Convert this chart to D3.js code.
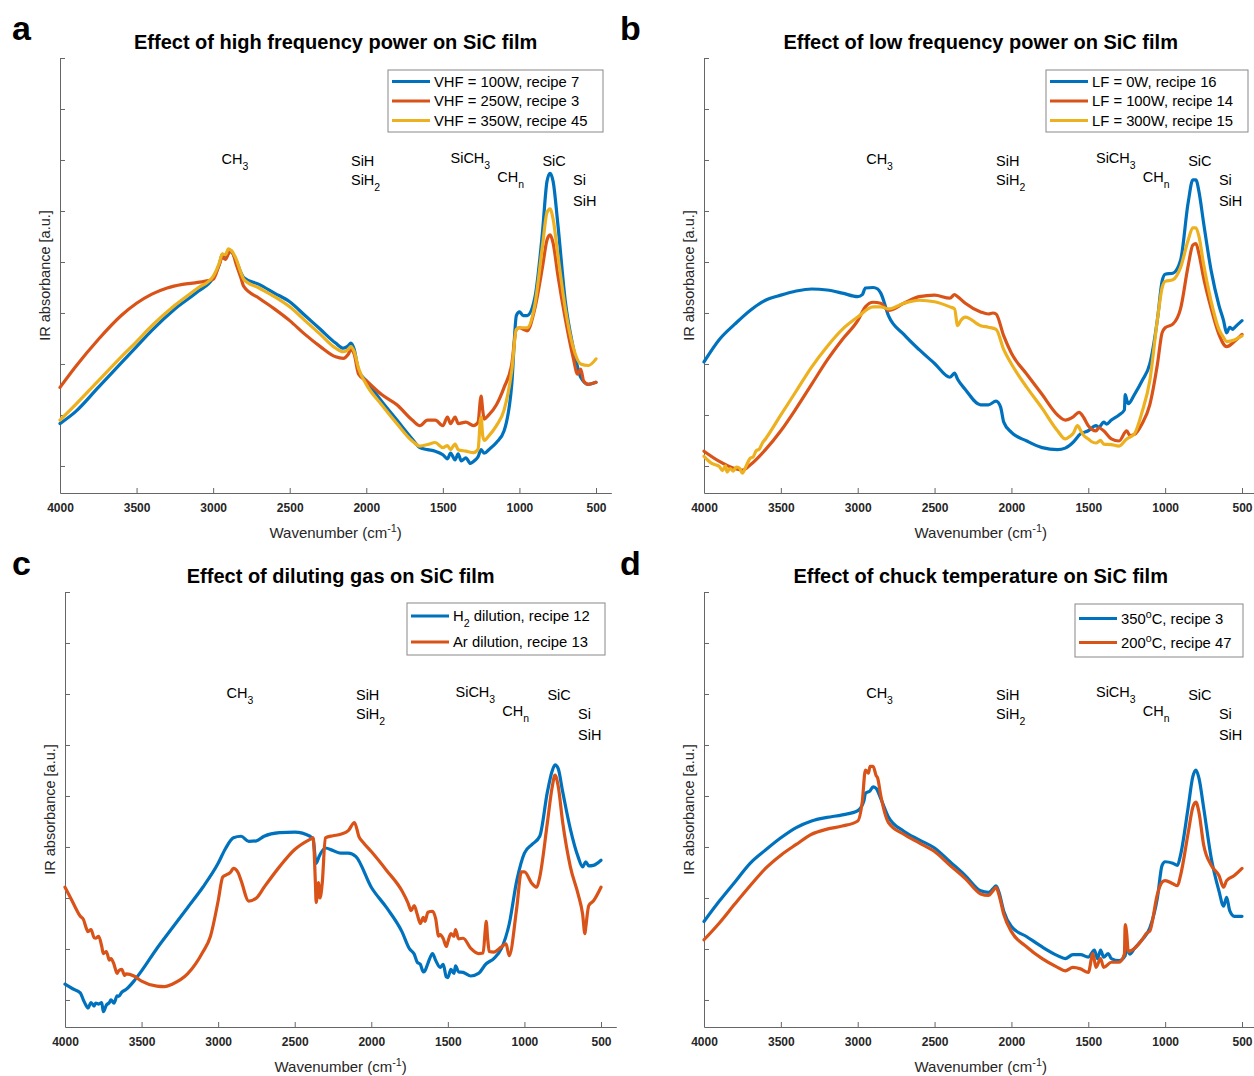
<!DOCTYPE html>
<html>
<head>
<meta charset="utf-8">
<script src="https://cdn.jsdelivr.net/npm/d3@7"></script>
<style>
  body { margin: 0; background: #fff; }
  svg { display: block; font-family: "Liberation Sans", Arial, Helvetica, sans-serif; }
</style>
</head>
<body>
<svg id="chart" width="1254" height="1076"></svg>
<script>
// FTIR spectra of SiC films, values are [wavenumber, absorbance in tick units]

// a: high frequency power
const hfBlue = [[4000,0.83],[3900,1.06],[3750,1.54],[3600,2.02],[3500,2.34],[3400,2.66],[3250,3.08],[3100,3.42],[3000,3.69],[2960,3.95],[2940,4.15],[2920,4.12],[2900,4.23],[2880,4.2],[2850,4.03],[2820,3.8],[2800,3.69],[2700,3.56],[2600,3.39],[2500,3.22],[2400,2.95],[2300,2.68],[2200,2.41],[2150,2.31],[2120,2.35],[2100,2.41],[2080,2.3],[2050,1.87],[2000,1.67],[1900,1.27],[1800,0.90],[1700,0.53],[1650,0.36],[1600,0.32],[1550,0.29],[1500,0.22],[1470,0.14],[1450,0.25],[1420,0.12],[1400,0.24],[1380,0.1],[1350,0.16],[1320,0.05],[1300,0.09],[1270,0.18],[1250,0.32],[1230,0.25],[1200,0.32],[1150,0.46],[1100,0.69],[1050,1.6],[1020,2.95],[1000,3.02],[975,2.95],[950,2.95],[900,3.29],[850,4.57],[820,5.58],[800,5.74],[780,5.58],[750,4.77],[700,3.22],[650,2.34],[620,1.94],[600,1.74],[550,1.6],[500,1.64]];
const hfRed = [[4000,1.54],[3900,1.94],[3750,2.48],[3600,2.95],[3500,3.19],[3400,3.37],[3300,3.49],[3200,3.56],[3100,3.6],[3000,3.66],[2960,3.95],[2940,4.09],[2920,4.05],[2900,4.16],[2880,4.22],[2850,3.96],[2820,3.7],[2800,3.52],[2700,3.29],[2600,3.08],[2500,2.85],[2400,2.58],[2300,2.34],[2200,2.14],[2150,2.11],[2120,2.18],[2100,2.28],[2080,2.2],[2050,1.80],[2000,1.67],[1900,1.40],[1800,1.2],[1700,0.9],[1650,0.79],[1600,0.9],[1550,0.9],[1500,0.79],[1470,0.96],[1450,0.83],[1420,0.96],[1400,0.83],[1350,0.86],[1300,0.79],[1270,0.86],[1255,1.3],[1250,1.37],[1240,1.1],[1230,0.92],[1200,1.0],[1150,1.2],[1100,1.54],[1050,2.0],[1020,2.68],[1000,2.71],[975,2.68],[950,2.65],[900,3.08],[850,3.89],[820,4.43],[800,4.53],[780,4.37],[750,3.76],[700,2.88],[650,2.14],[620,1.80],[600,1.9],[580,1.66],[550,1.6],[500,1.64]];
const hfYellow = [[4000,0.90],[3900,1.2],[3750,1.67],[3600,2.14],[3500,2.44],[3400,2.75],[3250,3.15],[3100,3.49],[3000,3.72],[2960,3.98],[2940,4.16],[2920,4.14],[2900,4.26],[2880,4.22],[2850,4.06],[2820,3.8],[2800,3.66],[2700,3.49],[2600,3.32],[2500,3.12],[2400,2.85],[2300,2.58],[2200,2.31],[2150,2.24],[2120,2.28],[2100,2.34],[2080,2.25],[2050,1.91],[2000,1.6],[1900,1.2],[1800,0.83],[1700,0.49],[1650,0.39],[1600,0.42],[1550,0.46],[1500,0.36],[1470,0.4],[1450,0.32],[1420,0.43],[1400,0.32],[1350,0.29],[1300,0.26],[1270,0.33],[1255,0.9],[1250,0.96],[1240,0.6],[1230,0.5],[1200,0.59],[1150,0.79],[1100,1.1],[1050,1.87],[1020,2.68],[1000,2.71],[950,2.71],[900,3.15],[850,4.30],[820,4.97],[800,5.04],[780,4.84],[750,4.16],[700,3.08],[650,2.34],[600,2.0],[550,1.97],[500,2.1]];
const hfNames = ["VHF = 100W, recipe 7", "VHF = 250W, recipe 3", "VHF = 350W, recipe 45"];

// b: low frequency power
const lfBlue = [[4000,2.04],[3900,2.48],[3800,2.78],[3700,3.05],[3600,3.25],[3500,3.35],[3400,3.43],[3300,3.47],[3200,3.45],[3100,3.39],[3000,3.32],[2970,3.36],[2950,3.49],[2900,3.50],[2870,3.47],[2850,3.39],[2800,2.95],[2700,2.58],[2600,2.28],[2500,2.01],[2400,1.74],[2370,1.82],[2350,1.7],[2300,1.50],[2200,1.2],[2150,1.2],[2100,1.27],[2070,1.15],[2050,0.86],[2000,0.66],[1900,0.49],[1800,0.36],[1700,0.32],[1650,0.35],[1600,0.46],[1550,0.63],[1500,0.69],[1450,0.79],[1430,0.76],[1400,0.86],[1380,0.82],[1350,0.9],[1300,1.0],[1265,1.1],[1260,1.4],[1250,1.3],[1240,1.22],[1200,1.4],[1150,1.67],[1100,2.0],[1050,2.88],[1020,3.62],[1000,3.76],[950,3.78],[900,4.03],[850,5.17],[820,5.61],[800,5.61],[780,5.38],[750,4.77],[700,3.82],[650,3.15],[620,2.85],[600,2.61],[580,2.72],[560,2.68],[550,2.71],[500,2.85]];
const lfRed = [[4000,0.29],[3900,0.09],[3800,-0.05],[3750,-0.08],[3700,0.02],[3600,0.32],[3500,0.69],[3400,1.13],[3300,1.60],[3200,2.07],[3100,2.48],[3000,2.85],[2950,3.12],[2900,3.21],[2850,3.19],[2800,3.05],[2700,3.19],[2600,3.32],[2500,3.35],[2400,3.29],[2370,3.36],[2350,3.32],[2300,3.19],[2200,3.02],[2150,2.98],[2120,3.0],[2100,2.98],[2050,2.55],[2000,2.21],[1900,1.80],[1800,1.40],[1700,1.0],[1650,0.90],[1600,0.96],[1560,1.05],[1530,0.95],[1500,0.79],[1450,0.69],[1430,0.75],[1400,0.69],[1350,0.53],[1300,0.49],[1250,0.69],[1230,0.6],[1200,0.62],[1150,0.83],[1100,1.2],[1050,2.0],[1020,2.61],[1000,2.71],[950,2.78],[900,3.08],[850,3.93],[820,4.33],[800,4.36],[780,4.16],[750,3.69],[700,3.08],[650,2.58],[600,2.34],[550,2.44],[500,2.58]];
const lfYellow = [[4000,0.19],[3950,0.05],[3900,-0.01],[3880,-0.09],[3860,0.0],[3850,-0.12],[3830,-0.05],[3810,-0.1],[3790,-0.02],[3770,-0.04],[3750,-0.14],[3730,-0.03],[3710,0.1],[3700,0.15],[3680,0.18],[3660,0.3],[3640,0.33],[3620,0.45],[3600,0.53],[3500,1.0],[3400,1.47],[3300,1.94],[3200,2.34],[3100,2.68],[3000,2.92],[2900,3.12],[2850,3.12],[2800,3.08],[2700,3.19],[2600,3.25],[2500,3.22],[2400,3.12],[2370,3.08],[2350,2.75],[2330,2.85],[2300,2.92],[2200,2.75],[2150,2.72],[2100,2.68],[2050,2.28],[2000,2.0],[1900,1.54],[1800,1.13],[1700,0.69],[1650,0.53],[1620,0.58],[1600,0.63],[1570,0.79],[1550,0.7],[1530,0.6],[1500,0.53],[1480,0.48],[1450,0.45],[1420,0.5],[1400,0.43],[1350,0.42],[1300,0.39],[1250,0.53],[1200,0.63],[1150,1.06],[1100,1.67],[1050,2.88],[1020,3.49],[1000,3.62],[950,3.65],[900,3.89],[850,4.43],[820,4.67],[800,4.67],[780,4.5],[750,3.96],[700,3.22],[650,2.68],[620,2.52],[600,2.44],[550,2.47],[500,2.55]];
const lfNames = ["LF = 0W, recipe 16", "LF = 100W, recipe 14", "LF = 300W, recipe 15"];

// c: diluting gas
const dilBlue = [[4000,0.31],[3950,0.22],[3900,0.14],[3880,0.0],[3860,-0.12],[3850,-0.16],[3830,-0.05],[3810,-0.12],[3800,-0.06],[3780,-0.08],[3760,-0.05],[3750,-0.23],[3730,-0.1],[3710,-0.05],[3700,0.0],[3680,-0.06],[3660,0.08],[3650,0.07],[3630,0.15],[3600,0.21],[3550,0.37],[3500,0.57],[3400,1.01],[3300,1.41],[3200,1.81],[3100,2.21],[3000,2.68],[2950,2.98],[2900,3.18],[2850,3.21],[2800,3.11],[2750,3.12],[2700,3.21],[2600,3.28],[2500,3.29],[2400,3.21],[2380,3.15],[2360,2.68],[2340,2.82],[2300,2.98],[2250,2.93],[2200,2.88],[2150,2.88],[2100,2.81],[2000,2.21],[1900,1.81],[1800,1.34],[1750,1.0],[1720,0.9],[1700,0.74],[1680,0.7],[1660,0.55],[1650,0.57],[1630,0.72],[1620,0.8],[1600,0.91],[1580,0.78],[1550,0.64],[1530,0.7],[1510,0.45],[1500,0.44],[1480,0.6],[1460,0.52],[1450,0.67],[1430,0.55],[1400,0.54],[1350,0.47],[1300,0.52],[1250,0.71],[1200,0.81],[1150,1.01],[1100,1.48],[1050,2.34],[1000,2.88],[950,3.05],[900,3.21],[850,4.08],[820,4.48],[800,4.61],[780,4.54],[750,4.08],[700,3.35],[650,2.81],[620,2.61],[600,2.71],[580,2.63],[550,2.64],[500,2.74]];
const dilRed = [[4000,2.21],[3960,1.98],[3930,1.8],[3900,1.64],[3880,1.58],[3860,1.4],[3850,1.34],[3830,1.38],[3810,1.22],[3800,1.21],[3780,1.25],[3760,1.05],[3750,0.91],[3730,0.95],[3710,0.78],[3700,0.81],[3680,0.7],[3660,0.52],[3650,0.57],[3630,0.6],[3610,0.48],[3600,0.51],[3550,0.47],[3500,0.37],[3400,0.27],[3350,0.26],[3300,0.31],[3200,0.51],[3100,0.94],[3050,1.25],[3000,1.94],[2970,2.41],[2950,2.45],[2920,2.5],[2900,2.58],[2870,2.5],[2850,2.34],[2800,1.94],[2750,2.0],[2700,2.21],[2600,2.61],[2500,2.95],[2400,3.15],[2380,3.18],[2365,2.3],[2360,1.91],[2345,2.3],[2335,2.0],[2320,2.3],[2300,3.18],[2250,3.22],[2200,3.25],[2150,3.32],[2110,3.48],[2080,3.2],[2050,3.08],[2000,2.91],[1900,2.54],[1800,2.14],[1760,1.9],[1740,1.75],[1720,1.85],[1700,1.68],[1680,1.5],[1660,1.62],[1650,1.54],[1630,1.72],[1600,1.74],[1580,1.6],[1560,1.25],[1550,1.28],[1530,1.2],[1510,1.05],[1500,1.14],[1480,1.3],[1460,1.25],[1450,1.38],[1430,1.2],[1400,1.21],[1350,1.01],[1300,0.91],[1270,0.92],[1255,1.4],[1250,1.54],[1240,1.2],[1230,0.95],[1200,0.94],[1150,1.04],[1120,1.1],[1100,0.87],[1050,1.81],[1020,2.51],[1000,2.51],[950,2.28],[920,2.21],[900,2.41],[850,3.48],[820,4.15],[800,4.41],[780,4.2],[750,3.48],[700,2.61],[650,2.08],[620,1.68],[605,1.3],[600,1.41],[580,1.85],[550,1.94],[500,2.21]];
const dilNames = ["H_{2} dilution, recipe 12", "Ar dilution, recipe 13"];

// d: chuck temperature
const tBlue = [[4000,1.54],[3900,1.94],[3800,2.31],[3700,2.68],[3600,2.94],[3500,3.18],[3400,3.38],[3300,3.51],[3200,3.58],[3100,3.63],[3000,3.71],[2960,3.9],[2950,4.05],[2920,4.1],[2900,4.18],[2880,4.15],[2850,3.95],[2800,3.59],[2700,3.31],[2600,3.14],[2500,2.98],[2400,2.71],[2300,2.44],[2200,2.14],[2150,2.11],[2120,2.18],[2100,2.24],[2080,2.1],[2050,1.74],[2000,1.44],[1900,1.24],[1800,1.04],[1700,0.87],[1650,0.81],[1600,0.89],[1550,0.89],[1500,0.84],[1460,0.98],[1440,0.81],[1420,0.98],[1400,0.84],[1370,0.91],[1350,0.81],[1300,0.77],[1260,0.87],[1250,1.0],[1230,0.9],[1200,1.01],[1150,1.18],[1100,1.41],[1050,2.01],[1020,2.64],[1000,2.71],[950,2.68],[920,2.64],[900,2.84],[850,3.78],[820,4.38],[800,4.51],[780,4.35],[750,3.78],[700,2.78],[650,2.14],[620,1.84],[600,2.01],[580,1.75],[550,1.64],[500,1.64]];
const tRed = [[4000,1.18],[3900,1.51],[3800,1.88],[3700,2.24],[3600,2.58],[3500,2.84],[3400,3.05],[3300,3.25],[3200,3.35],[3100,3.41],[3000,3.51],[2970,3.9],[2950,4.51],[2930,4.45],[2920,4.58],[2900,4.58],[2880,4.4],[2870,4.35],[2850,4.01],[2800,3.48],[2700,3.25],[2600,3.08],[2500,2.91],[2400,2.64],[2300,2.38],[2200,2.08],[2150,2.05],[2120,2.14],[2100,2.21],[2080,2.05],[2050,1.68],[2000,1.34],[1900,1.04],[1800,0.81],[1700,0.64],[1650,0.57],[1600,0.64],[1550,0.61],[1500,0.54],[1470,0.91],[1450,0.64],[1420,0.81],[1400,0.64],[1350,0.74],[1300,0.74],[1265,0.9],[1260,1.48],[1250,1.3],[1240,0.95],[1200,1.01],[1150,1.18],[1120,1.31],[1100,1.35],[1050,2.08],[1020,2.31],[1000,2.34],[950,2.28],[920,2.24],[900,2.44],[850,3.28],[820,3.78],[800,3.88],[780,3.68],[750,3.05],[700,2.64],[650,2.44],[620,2.21],[600,2.34],[550,2.44],[500,2.58]];
const tNames = ["350^{o}C, recipe 3", "200^{o}C, recipe 47"];

// shared axis and annotation values
const xTicks = [4000, 3500, 3000, 2500, 2000, 1500, 1000, 500];
const yTicks = [0, 1, 2, 3, 4, 5, 6, 7, 8];
const peakText = ["CH_{3}", "SiH", "SiH_{2}", "SiCH_{3}", "CH_{n}", "SiC", "Si", "SiH"];
const peakWn = [2945, 2100, 2100, 1450, 1145, 850, 650, 650];
const peakY = [5.93, 5.88, 5.5, 5.95, 5.57, 5.88, 5.5, 5.1];

const colors = ["#0072BD", "#D95319", "#EDB120"];

const panels = [
  {letter: "a", title: "Effect of high frequency power on SiC film", series: [hfBlue, hfRed, hfYellow], names: hfNames,
   x0: 60, x500: 596, top: 58, bottom: 493, legend: {x: 388, y: 70, w: 215, h: 62, row: 19.5}, lx: 12, ly: 40},
  {letter: "b", title: "Effect of low frequency power on SiC film", series: [lfBlue, lfRed, lfYellow], names: lfNames,
   x0: 704, x500: 1242, top: 58, bottom: 493, legend: {x: 1046, y: 70, w: 202, h: 62, row: 19.5}, lx: 620, ly: 40},
  {letter: "c", title: "Effect of diluting gas on SiC film", series: [dilBlue, dilRed], names: dilNames,
   x0: 65, x500: 601, top: 592, bottom: 1027, legend: {x: 407, y: 603, w: 198, h: 52, row: 26}, lx: 12, ly: 575},
  {letter: "d", title: "Effect of chuck temperature on SiC film", series: [tBlue, tRed], names: tNames,
   x0: 704, x500: 1242, top: 592, bottom: 1027, legend: {x: 1075, y: 604, w: 168, h: 53, row: 24}, lx: 620, ly: 575}
];

const svg = d3.select("#chart");

// text with _{sub} and ^{sup} parts, like the TeX interpreter
function richText(sel, str, size) {
  const parts = str.split(/(_\{[^}]*\}|\^\{[^}]*\})/).filter(s => s.length);
  let shift = 0;
  parts.forEach(p => {
    const t = sel.append("tspan");
    if (p[0] === "_" || p[0] === "^") {
      const d = p[0] === "_" ? Math.round(size * 0.38) : -Math.round(size * 0.42);
      t.attr("dy", d - shift).attr("font-size", size * 0.72).text(p.slice(2, -1));
      shift = d;
    } else {
      t.attr("dy", -shift).text(p);
      shift = 0;
    }
  });
}

panels.forEach(drawPanel);

function drawPanel(p) {
  const pxPerUnit = (p.x500 - p.x0) / 3500;
  const x = d3.scaleLinear().domain([4000, 400]).range([p.x0, p.x0 + 3600 * pxPerUnit]);
  const y = d3.scaleLinear().domain([-0.53, 8]).range([p.bottom, p.top]);

  const g = svg.append("g");

  // axes, ticks pointing inward
  g.append("g")
    .attr("transform", `translate(0,${p.bottom})`)
    .call(d3.axisBottom(x).tickValues(xTicks).tickFormat(d3.format("d"))
      .tickSize(-5).tickSizeOuter(0).tickPadding(10))
    .call(a => a.select(".domain").attr("stroke", "#666"))
    .call(a => a.selectAll(".tick line").attr("stroke", "#666"))
    .call(a => a.selectAll(".tick text")
      .attr("font-size", 12).attr("font-weight", "bold").attr("fill", "#262626")
      .attr("font-family", "Liberation Sans, Arial, sans-serif"));

  g.append("g")
    .attr("transform", `translate(${p.x0},0)`)
    .call(d3.axisLeft(y).tickValues(yTicks).tickSize(-5).tickSizeOuter(0).tickFormat(""))
    .call(a => a.select(".domain").attr("stroke", "#666"))
    .call(a => a.selectAll(".tick line").attr("stroke", "#666"));

  // spectra
  const line = d3.line()
    .x(d => x(d[0]))
    .y(d => y(d[1]))
    .curve(d3.curveMonotoneX);

  g.append("g")
    .selectAll("path")
    .data(p.series)
    .join("path")
      .attr("d", line)
      .attr("fill", "none")
      .attr("stroke", (d, i) => colors[i])
      .attr("stroke-width", 3.2)
      .attr("stroke-linejoin", "round")
      .attr("stroke-linecap", "round");

  // peak assignments
  peakText.forEach((t, i) => {
    const txt = g.append("text")
      .attr("x", x(peakWn[i]))
      .attr("y", y(peakY[i]))
      .attr("font-size", 14.5)
      .attr("fill", "#000");
    richText(txt, t, 14.5);
  });

  // titles and labels
  const cx = (p.x0 + x(400)) / 2;
  g.append("text")
    .attr("x", cx)
    .attr("y", p.top - 9)
    .attr("text-anchor", "middle")
    .attr("font-size", 20)
    .attr("font-weight", "bold")
    .text(p.title);

  g.append("text")
    .attr("x", p.lx)
    .attr("y", p.ly)
    .attr("font-size", 34)
    .attr("font-weight", "bold")
    .text(p.letter);

  const xl = g.append("text")
    .attr("x", cx)
    .attr("y", p.bottom + 45)
    .attr("text-anchor", "middle")
    .attr("font-size", 15)
    .attr("fill", "#262626");
  richText(xl, "Wavenumber (cm^{-1})", 15);

  g.append("text")
    .attr("transform", `translate(${p.x0 - 10},${(p.top + p.bottom) / 2}) rotate(-90)`)
    .attr("text-anchor", "middle")
    .attr("font-size", 14.5)
    .attr("fill", "#262626")
    .text("IR absorbance [a.u.]");

  // legend
  const L = p.legend;
  const lg = g.append("g").attr("transform", `translate(${L.x},${L.y})`);
  lg.append("rect")
    .attr("width", L.w)
    .attr("height", L.h)
    .attr("fill", "#fff")
    .attr("stroke", "#888")
    .attr("stroke-width", 1);
  p.names.forEach((name, i) => {
    const cy = (L.h - L.row * (p.names.length - 1)) / 2 + i * L.row;
    lg.append("line")
      .attr("x1", 4).attr("x2", 42)
      .attr("y1", cy).attr("y2", cy)
      .attr("stroke", colors[i])
      .attr("stroke-width", 3.2);
    const t = lg.append("text")
      .attr("x", 46)
      .attr("y", cy + 5)
      .attr("font-size", 14.8)
      .attr("fill", "#000");
    richText(t, name, 14.8);
  });
}
</script>
</body>
</html>
